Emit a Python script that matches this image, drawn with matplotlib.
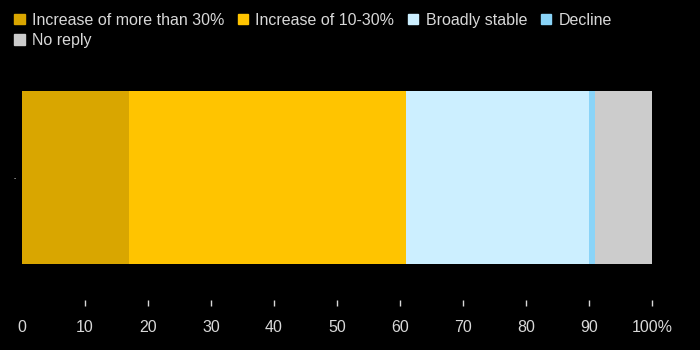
import matplotlib.pyplot as plt
from matplotlib.patches import Patch

categories = ['Increase of more than 30%', 'Increase of 10-30%', 'Broadly stable', 'Decline', 'No reply']
values = [17, 44, 29, 1, 9]
colors = ['#d9a600', '#ffc400', '#ccefff', '#8ad4f8', '#cccccc']
ticks = [0, 10, 20, 30, 40, 50, 60, 70, 80, 90, 100]
tick_labels = ['0', '10', '20', '30', '40', '50', '60', '70', '80', '90', '100%']

plt.rcParams['font.family'] = ['Liberation Sans', 'DejaVu Sans']
txt = '#d8d8d8'

fig = plt.figure(figsize=(7, 3.5), dpi=100, facecolor='black')
ax = fig.add_axes([22 / 700, 1 - 264 / 350, 630 / 700, 173 / 350], facecolor='black')

left = 0
for v, c in zip(values, colors):
    ax.barh(0, v, left=left, height=1, color=c, linewidth=0)
    left += v

ax.set_xlim(0, 100)
ax.set_ylim(-0.5, 0.5)
for s in ['top', 'right', 'left']:
    ax.spines[s].set_visible(False)
ax.spines['bottom'].set_position(('outward', 26))
ax.spines['bottom'].set_visible(False)
ax.set_xticks(ticks)
ax.set_xticklabels(tick_labels, fontsize=11.5, color=txt)
ax.tick_params(axis='x', length=4.3, width=1, color=txt, pad=10)
ax.xaxis.get_major_ticks()[0].tick1line.set_visible(False)
ax.set_yticks([0])
ax.set_yticklabels(['\u00b7'], fontsize=9, color=txt)
ax.tick_params(axis='y', length=0, pad=4)

handles = [Patch(color=c, label=l) for c, l in zip(colors, categories)]
order = [0, 4, 1, 2, 3]
fig.legend([handles[i] for i in order], [categories[i] for i in order],
           ncol=4, loc='upper left', bbox_to_anchor=(0.0, 1.005), frameon=False,
           fontsize=11.5, labelcolor=txt, handlelength=0.65, handleheight=0.65,
           handletextpad=0.45, columnspacing=0.85, labelspacing=0.35)

fig.savefig('out.png', dpi=100, facecolor='black')
